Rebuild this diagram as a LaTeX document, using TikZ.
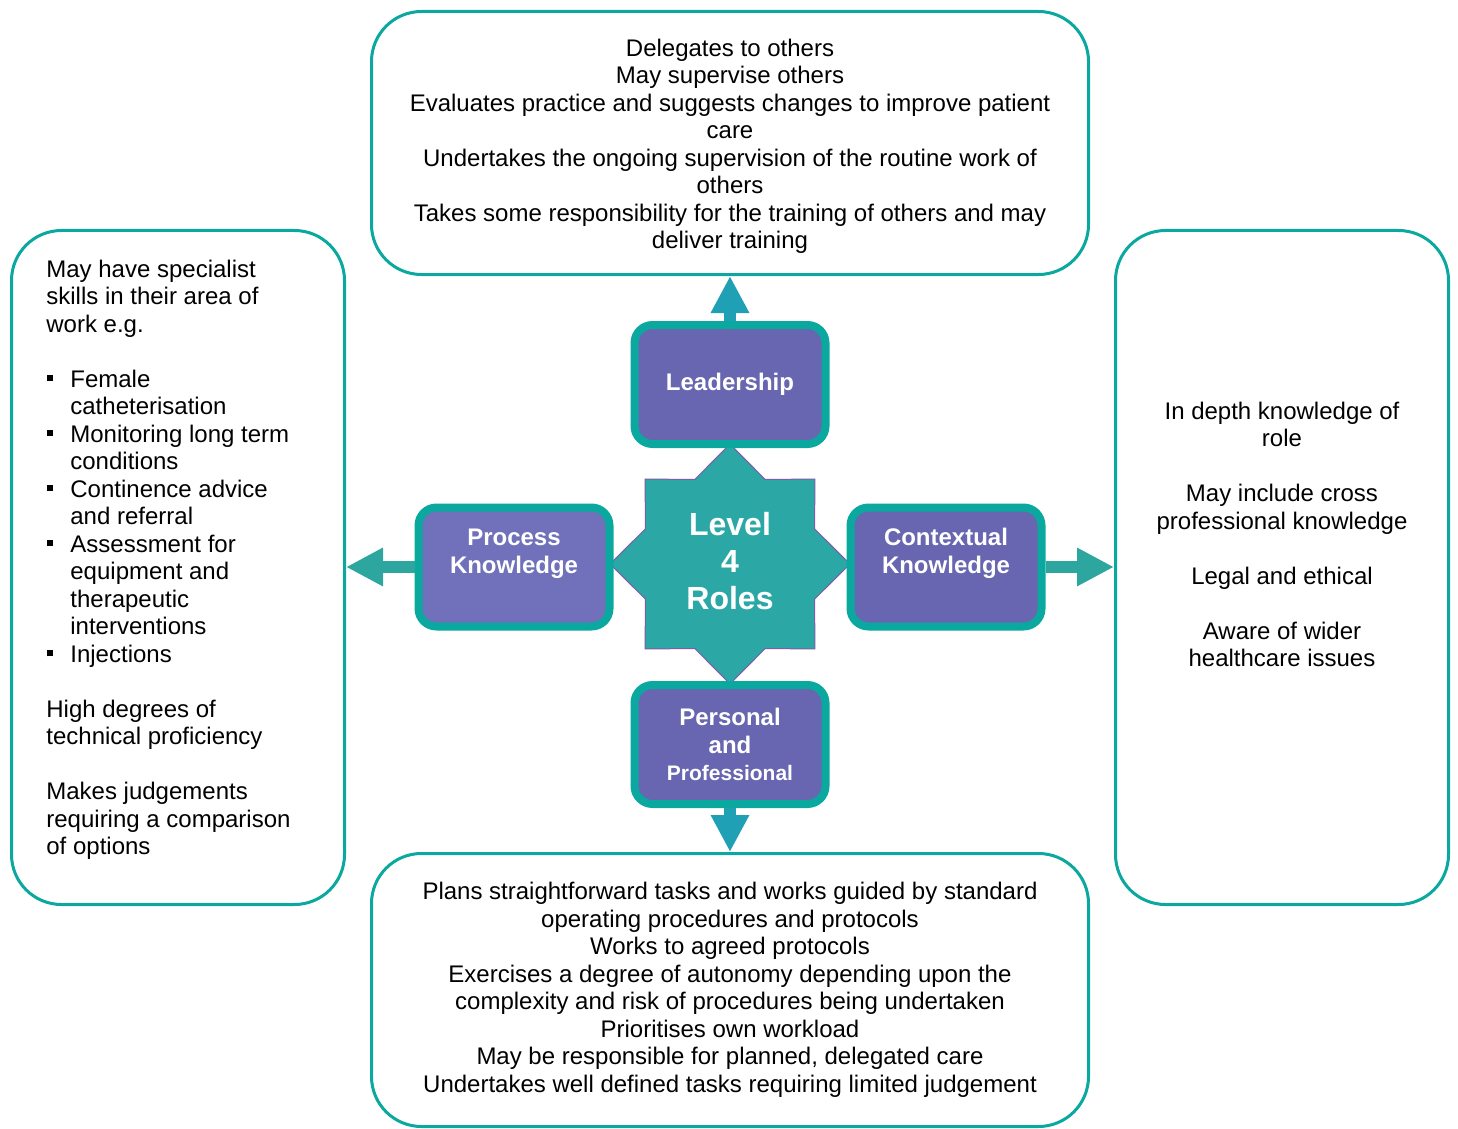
\documentclass[tikz,border=0pt]{standalone}
\usepackage{fontspec}
\setmainfont{Liberation Sans}
\usetikzlibrary{positioning,arrows.meta}
\usetikzlibrary{shapes.geometric}
\definecolor{tealline}{HTML}{0BA8A0}
\definecolor{rolefill}{HTML}{6866B0}
\definecolor{procfill}{HTML}{7071BA}
\definecolor{starfill}{HTML}{2BA8A6}
\definecolor{starline}{HTML}{7D5CA8}
\definecolor{arrowside}{HTML}{2CA69E}
\definecolor{arrowvert}{HTML}{20A0B4}
\tikzstyle{infobox} = [draw=tealline, line width=1.5pt, rounded corners=25pt, align=center, font=\fontsize{12}{13.75}\selectfont]
\tikzstyle{infotext} = [inner sep=0pt, font=\fontsize{12}{13.75}\selectfont]
\tikzstyle{rolebox} = [draw=tealline, fill=rolefill, line width=4pt, rounded corners=9pt, minimum width=95.5pt, minimum height=59.5pt, align=center, text=white, font=\fontsize{12}{13.75}\selectfont\bfseries]
\tikzstyle{sidearrow} = [arrowside, line width=6pt, -{Triangle[width=18pt,length=18.5pt]}]
\tikzstyle{vertarrow} = [arrowvert, line width=6pt, -{Triangle[width=18pt,length=18.5pt]}]
\newcommand{\sqbullet}{\makebox[12pt][l]{\hspace{0.5pt}\rule[3pt]{3pt}{3pt}}}
\begin{document}
\begin{tikzpicture}[x=0.5pt, y=-0.5pt]
\useasboundingbox (0,0) rectangle (1458,1129);

\node[infobox, minimum width=358.5pt, minimum height=131.5pt] (tasks) at (730,143) {\rule{0pt}{11.8pt}Delegates to others\\May supervise others\\Evaluates practice and suggests changes to improve patient\\care\\Undertakes the ongoing supervision of the routine work of\\others\\Takes some responsibility for the training of others and may\\deliver training};
\node[infobox, minimum width=166.5pt, minimum height=337pt] (skills) at (178,567.5) {};
\node[infobox, minimum width=166.5pt, minimum height=337pt] (aware) at (1282,567.5) {};
\node[infobox, minimum width=358.5pt, minimum height=136.5pt] (plans) at (730,990) {Plans straightforward tasks and works guided by standard\\operating procedures and protocols\\Works to agreed protocols\\Exercises a degree of autonomy depending upon the\\complexity and risk of procedures being undertaken\\Prioritises own workload\\May be responsible for planned, delegated care\\Undertakes well defined tasks requiring limited judgement};

\node[infotext, align=left, anchor=west] (skilltext) at (46,560) {May have specialist\\skills in their area of\\work e.g.\\[13.75pt]
\sqbullet Female\\\hspace*{12pt}catheterisation\\
\sqbullet Monitoring long term\\\hspace*{12pt}conditions\\
\sqbullet Continence advice\\\hspace*{12pt}and referral\\
\sqbullet Assessment for\\\hspace*{12pt}equipment and\\\hspace*{12pt}therapeutic\\\hspace*{12pt}interventions\\
\sqbullet Injections\\[13.75pt]
High degrees of\\technical proficiency\\[13.75pt]
Makes judgements\\requiring a comparison\\of options};
\node[infotext, align=center] (awaretext) at (1282,534.5) {In depth knowledge of\\role\\[13.75pt]May include cross\\professional knowledge\\[13.75pt]Legal and ethical\\[13.75pt]Aware of wider\\healthcare issues};

\node[star, star points=8, star point ratio=1.31, minimum size=120pt, inner sep=0pt, fill=starfill, draw=starline, line width=0.5pt, text=white, align=center, font=\fontsize{16}{18.5}\selectfont\bfseries] (core) at (730,564) {Level\\4\\Roles\rule[-3pt]{0pt}{0pt}};

\node[rolebox] (lead) at (730,384.5) {Leadership};
\node[rolebox, fill=procfill] (proc) at (514,567) {Process\\Knowledge\rule[-16pt]{0pt}{0pt}};
\node[rolebox] (ctx) at (946,567) {Contextual\\Knowledge\rule[-16pt]{0pt}{0pt}};
\node[rolebox] (pers) at (730,744.5) {Personal\\and\\{\fontsize{10.5}{13.5}\selectfont Professional}};

\draw[vertarrow] (lead.north) -- (lead.north |- tasks.south);
\draw[sidearrow] (proc.west) -- (proc.west -| skills.east);
\draw[sidearrow] (ctx.east) -- (ctx.east -| aware.west);
\draw[vertarrow] (pers.south) -- (pers.south |- plans.north);

\end{tikzpicture}
\end{document}
